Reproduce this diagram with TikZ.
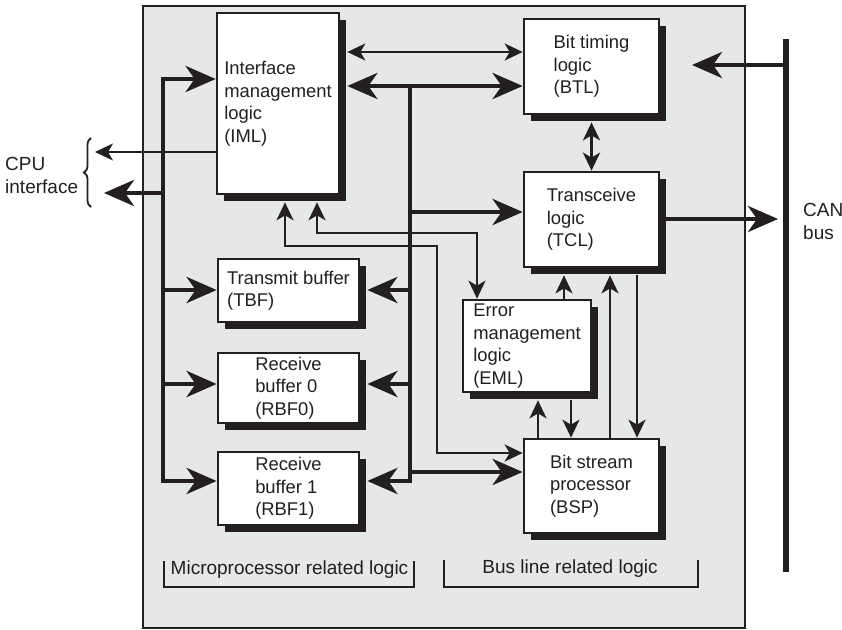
\documentclass[tikz,border=0pt]{standalone}
\usepackage{fontspec}
\setmainfont{Liberation Sans}
\usetikzlibrary{arrows.meta,shadows,calc,decorations.pathreplacing}
\definecolor{ink}{HTML}{231F20}
\definecolor{panel}{HTML}{E6E7E8}
\begin{document}
\begin{tikzpicture}[x=1pt,y=-1pt,
  lbl/.style={font=\fontsize{18.4}{22.5}\selectfont, text=ink, align=left, inner sep=0pt},
  sidelbl/.style={lbl, font=\fontsize{19}{23}\selectfont},
  blockbox/.style={lbl, draw=ink, line width=2.7pt, fill=white,
    drop shadow={shadow xshift=7pt, shadow yshift=-7pt, opacity=1, fill=ink}},
  thickln/.style={draw=ink, line width=4.5pt},
  midln/.style={draw=ink, line width=3.2pt},
  thinln/.style={draw=ink, line width=2.2pt},
  Big/.tip={Stealth[length=30pt,width=26pt,inset=9pt]},
  Med/.tip={Stealth[length=18pt,width=17pt,inset=5pt]},
  bracket/.style={draw=ink, line width=2pt}
]
\useasboundingbox[fill=white] (0,0) rectangle (842,629);

% chip outline
\node[draw=ink, line width=2.8pt, fill=panel, minimum width=602pt, minimum height=622pt, inner sep=0pt] (chip) at (444,317) {};

% functional blocks
\node[blockbox, minimum width=122pt, minimum height=181pt] (IML) at (278,103.5) {Interface\\management\\logic\\(IML)};
\node[blockbox, minimum width=135pt, minimum height=95pt] (BTL) at (591.5,66.5) {Bit timing\\logic\\(BTL)};
\node[blockbox, minimum width=135pt, minimum height=95pt] (TCL) at (591.5,219.5) {Transceive\\logic\\(TCL)};
\node[blockbox, minimum width=128pt, minimum height=92pt] (EML) at (527,346) {Error\\management\\logic\\(EML)};
\node[blockbox, minimum width=135pt, minimum height=94pt] (BSP) at (591.5,486) {Bit stream\\processor\\(BSP)};
\node[blockbox, minimum width=141pt, minimum height=63pt] (TBF) at (288.5,290.5) {Transmit buffer\\(TBF)};
\node[blockbox, minimum width=141pt, minimum height=70pt] (RBF0) at (288.5,388) {Receive\\buffer 0\\(RBF0)};
\node[blockbox, minimum width=141pt, minimum height=73pt] (RBF1) at (288.5,488.5) {Receive\\buffer 1\\(RBF1)};

% outer corners of the shadows
\foreach \b in {IML,BTL,TCL,EML,TBF,RBF0,RBF1}
  \coordinate (\b s) at ($(\b.south east)+(7,7)$);

% labels
\node[sidelbl, anchor=west] (cpu) at (5,175) {CPU\\interface};
\node[sidelbl, anchor=west] (can) at (803,221) {CAN\\bus};
\node[sidelbl] (mpl) at (289.5,570) {Microprocessor related logic};
\node[sidelbl] (bll) at (570,569) {Bus line related logic};

% bend points and levels
\coordinate (yA) at (0,52);
\coordinate (lbTop) at (163,79);
\coordinate (lbBot) at (163,481);
\coordinate (rbTop) at (410,86);
\coordinate (rbBot) at (410,481);
\coordinate (yT) at (0,212);
\coordinate (yTB) at (0,290);
\coordinate (yR0) at (0,384);
\coordinate (yBS) at (0,472);
\coordinate (cpuA) at (95,152);
\coordinate (cpuB) at (104,193);
\coordinate (canTop) at (786,39);
\coordinate (canBot) at (786,572);
\coordinate (btlIn) at (692,65);
\coordinate (canOut) at (778,219);
\coordinate (pA1) at (285,246);
\coordinate (pA2) at (437,246);
\coordinate (pA3) at (437,453);
\coordinate (pB1) at (317,233);
\coordinate (pB2) at (477,233);
\coordinate (xa) at (564,0);
\coordinate (xb) at (610,0);
\coordinate (xc) at (637,0);
\coordinate (xd) at (538,0);
\coordinate (xe) at (571,0);

% CAN bus line
\draw[line width=6pt, draw=ink] (canTop) -- (canBot);
\draw[thickln, -Big] (canTop |- btlIn) -- (btlIn);
\draw[thickln, -Big] (TCL.east |- canOut) -- (canOut);

% IML <-> BTL
\draw[thinln, Med-Med] (IMLs |- yA) -- (BTL.west |- yA);
\draw[thickln, Big-Big] (IMLs |- rbTop) -- (BTL.west |- rbTop);

% internal data bus
\draw[thickln, -Big] (rbTop) -- (rbBot) -- (RBF1s |- rbBot);
\draw[thickln, -Big] (rbTop |- yT) -- (TCL.west |- yT);
\draw[thickln, -Big] (rbTop |- yTB) -- (TBFs |- yTB);
\draw[thickln, -Big] (rbTop |- yR0) -- (RBF0s |- yR0);
\draw[thickln, -Big] (rbTop |- yBS) -- (BSP.west |- yBS);

% CPU side bus
\draw[thickln, Big-Big] (IML.west |- lbTop) -- (lbTop) -- (lbBot) -- (RBF1.west |- lbBot);
\draw[thickln, -Big] (lbTop |- yTB) -- (TBF.west |- yTB);
\draw[thickln, -Big] (lbTop |- yR0) -- (RBF0.west |- yR0);
\draw[thickln, -Big] (lbTop |- cpuB) -- (cpuB);
\draw[thinln, -Med] (IML.west |- cpuA) -- (cpuA);
\draw[ink, line width=1.8pt, decorate, decoration={brace, amplitude=7pt}] (91,207) -- (91,138);

% control lines from IML
\draw[thinln, Med-Med] (IMLs -| pA1) -- (pA1) -- (pA2) -- (pA3) -- (BSP.west |- pA3);
\draw[thinln, Med-Med] (IMLs -| pB1) -- (pB1) -- (pB2) -- (EML.north -| pB2);

% BTL <-> TCL
\draw[midln, Med-Med] (BTL.south |- BTLs) -- (TCL.north);

% TCL / EML / BSP
\draw[thinln, -Med] (EML.north -| xa) -- (TCLs -| xa);
\draw[thinln, -Med] (BSP.north -| xb) -- (TCLs -| xb);
\draw[thinln, -Med] (TCLs -| xc) -- (BSP.north -| xc);
\draw[thinln, -Med] (BSP.north -| xd) -- (EMLs -| xd);
\draw[thinln, -Med] (EMLs -| xe) -- (BSP.north -| xe);

% group brackets
\draw[bracket] (164,561) -- (164,587) -- (414,587) -- (414,561);
\draw[bracket] (444,560) -- (444,587) -- (698,587) -- (698,560);
\end{tikzpicture}
\end{document}
